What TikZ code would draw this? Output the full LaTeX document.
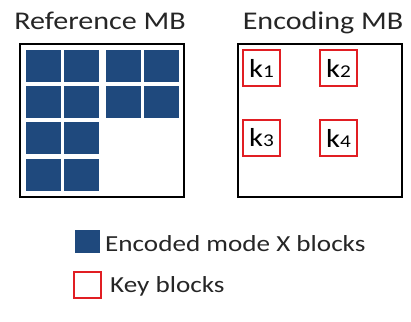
\documentclass[tikz,border=0pt]{standalone}
\usepackage{fontspec}
\setmainfont[FakeStretch=1.18]{Carlito}
\usepackage{tikz}
\usetikzlibrary{positioning}
\definecolor{modeblue}{RGB}{31,73,125}
\definecolor{keyred}{RGB}{225,30,35}
\tikzset{
  mbbox/.style={draw=black, line width=2pt, inner sep=0pt},
  modeblk/.style={fill=modeblue, inner sep=0pt, minimum width=35pt, minimum height=32pt},
  keyblk/.style={draw=keyred, line width=2pt, inner sep=0pt, minimum width=37pt, minimum height=36pt,
    font=\fontsize{26}{30}\selectfont},
  caption/.style={font=\fontsize{23}{27}\selectfont, text=black!85, inner sep=0pt},
  title/.style={caption, font=\fontsize{25.5}{30}\selectfont},
}
\newcommand\keylab[1]{k{\fontsize{18}{21}\selectfont #1}}

\begin{document}
\begin{tikzpicture}[x=1pt, y=-1pt]
    \useasboundingbox (0,0) rectangle (411,321);

    % titles
    \node[title, anchor=base] (reftitle) at (100,30) {Reference MB};
    \node[title, anchor=base] (enctitle) at (323,30) {Encoding MB};

    % reference macroblock
    \node[mbbox, minimum width=164pt, minimum height=153pt] (refmb) at (102,120) {};
    \foreach \cx/\cy [count=\i] in {43.5/66, 81.5/66, 123.5/66, 161.5/66,
                                    43.5/102, 81.5/102, 123.5/102, 161.5/102,
                                    43.5/138, 81.5/138, 43.5/175, 81.5/175}
      \node[modeblk] (blk\i) at (\cx,\cy) {};

    % encoding macroblock
    \node[mbbox, minimum width=164pt, minimum height=153pt] (encmb) at (320,120) {};
    \node[keyblk] (k1) at (261.5,68)  {\keylab{1}};
    \node[keyblk] (k2) at (338.5,68)  {\keylab{2}};
    \node[keyblk] (k3) at (261.5,138) {\keylab{3}};
    \node[keyblk] (k4) at (338.5,138) {\keylab{4}};

    % legend
    \node[fill=modeblue, minimum width=25pt, minimum height=23pt, inner sep=0pt] (legblue) at (87.5,241.5) {};
    \node[caption, anchor=base west] (legbluetxt) at (105,251) {Encoded mode X blocks};
    \node[draw=keyred, line width=2pt, minimum width=27pt, minimum height=26pt, inner sep=0pt] (legred) at (87.5,285) {};
    \node[caption, anchor=base west] (legredtxt) at (110,292) {Key blocks};
  \end{tikzpicture}
\end{document}
